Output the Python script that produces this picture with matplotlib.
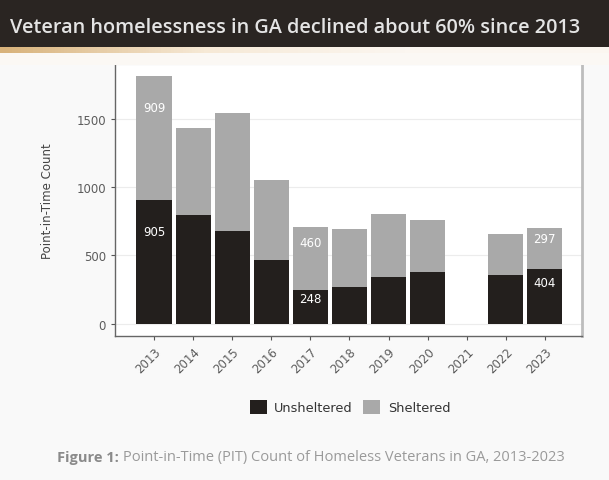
import matplotlib.pyplot as plt
import numpy as np
from matplotlib.patches import Rectangle

years = ['2013', '2014', '2015', '2016', '2017', '2018', '2019', '2020', '2021', '2022', '2023']
unsheltered = [905, 795, 679, 467, 248, 270, 343, 380, 0, 358, 404]
sheltered = [909, 643, 868, 584, 460, 423, 460, 379, 0, 299, 297]
labelled = ['2013', '2017', '2023']

title = 'Veteran homelessness in GA declined about 60% since 2013'
caption_bold = 'Figure 1:'
caption = 'Point-in-Time (PIT) Count of Homeless Veterans in GA, 2013-2023'

plt.rcParams['font.family'] = ['DejaVu Sans']
head_font = ['Open Sans', 'DejaVu Sans']

fig = plt.figure(figsize=(6.09, 4.81), dpi=100, facecolor='#f9f9f9')
W, H = 609, 481

# dark title banner
fig.patches.append(Rectangle((0, 1 - 48 / H), 1, 48 / H, transform=fig.transFigure,
                             facecolor='#2a2522', edgecolor='none', zorder=0))
grad = np.linspace(0, 1, 200).reshape(1, -1)
gax = fig.add_axes([0, 1 - 54 / H, 1, 6 / H])
gax.imshow(grad, aspect='auto', cmap=plt.matplotlib.colors.LinearSegmentedColormap.from_list(
    'g', ['#d8b27a', '#f6e9d6', '#fbf6f0', '#fbf6f0']))
gax.axis('off')
fig.patches.append(Rectangle((0, 1 - 66 / H), 1, 12 / H, transform=fig.transFigure,
                             facecolor='#fbf8f4', edgecolor='none', zorder=0))
fig.text(10 / W, 1 - 28 / H, title, color='#e4e4e4', fontsize=14.3, fontweight='semibold',
         va='center', ha='left', family=head_font)

ax = fig.add_axes([115 / W, 1 - 337 / H, (582 - 115) / W, (337 - 65) / H])
ax.set_facecolor('white')
x = np.arange(len(years))
ax.bar(x, unsheltered, width=0.9, color='#231f1d', label='Unsheltered', zorder=3)
ax.bar(x, sheltered, width=0.9, bottom=unsheltered, color='#a9a9a9', label='Sheltered', zorder=3)

for i, yr in enumerate(years):
    if yr in labelled:
        ax.text(i, unsheltered[i] * 0.75, str(unsheltered[i]), ha='center', va='center',
                color='white', fontsize=8.5, zorder=4)
        ax.text(i, unsheltered[i] + sheltered[i] * 0.75, str(sheltered[i]), ha='center',
                va='center', color='white', fontsize=8.5, zorder=4)

total_max = max(u + s for u, s in zip(unsheltered, sheltered))
ax.set_xlim(-1.0, len(years) - 0.05)
ax.set_ylim(-0.05 * total_max, 1.05 * total_max)
ax.set_yticks([0, 500, 1000, 1500])
ax.set_xticks(x)
ax.set_xticklabels(years, rotation=45, ha='right', rotation_mode='anchor')
ax.yaxis.grid(True, color='#ececec', linewidth=0.8, zorder=0)
ax.tick_params(axis='both', colors='#555555', labelsize=8.5, length=3, width=0.8,
               labelcolor='#5c5c5c')
ax.set_ylabel('Point-in-Time Count', fontsize=8.5, color='#444444', labelpad=16)
for side in ['left', 'bottom']:
    ax.spines[side].set_color('#666666')
    ax.spines[side].set_linewidth(1.0)
ax.spines['top'].set_color('#c8c8c8')
ax.spines['right'].set_color('#bdbdbd')
ax.spines['right'].set_linewidth(2.0)

fig.legend(loc='center', bbox_to_anchor=(350 / W, 1 - 408 / H), ncol=2, frameon=False,
           fontsize=9.3, handlelength=1.3, handleheight=1.3, columnspacing=0.8,
           handletextpad=0.6, labelcolor='#333333')

# caption: bold lead-in followed by regular text, centred as a whole
cy = 1 - 458 / H
t1 = fig.text(0, cy, caption_bold + ' ', ha='left', va='center', fontsize=10.5,
              fontweight='bold', color='#8a8a8a', family=head_font)
t2 = fig.text(0, cy, caption, ha='left', va='center', fontsize=10.5, color='#9a9a9a',
              family=head_font)
r = fig.canvas.get_renderer()
w1 = t1.get_window_extent(r).width
w2 = t2.get_window_extent(r).width
x0 = 311 - (w1 + w2) / 2
t1.set_x(x0 / W)
t2.set_x((x0 + w1) / W)

fig.savefig('out.png', dpi=100, facecolor=fig.get_facecolor())
